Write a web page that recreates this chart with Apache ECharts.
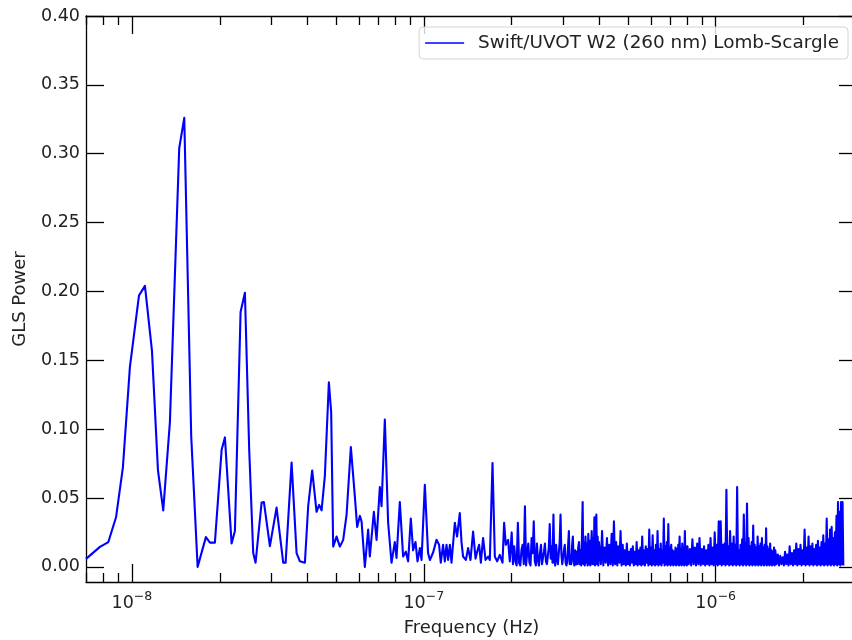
<!DOCTYPE html>
<html>
<head>
<meta charset="utf-8">
<script src="https://cdn.jsdelivr.net/npm/echarts@6/dist/echarts.min.js"></script>
<style>
html,body{margin:0;padding:0;background:#fff}
#chart{width:852px;height:640px}
</style>
</head>
<body>
<div id="chart"></div>
<script>
// Generalised Lomb-Scargle periodogram, Swift/UVOT W2 light curve.
// Frequencies are given in nHz (1e-9 Hz), power is the GLS power.

// Low-frequency part: resolved peaks
const lowFreq = [
  6.96, 7.77, 8.30, 8.82, 9.31, 9.84, 10.57, 11.08, 11.71, 12.28,
  12.80, 13.49, 14.52, 15.11, 15.96, 16.79, 17.92, 18.50, 19.24, 20.29,
  20.82, 21.95, 22.53, 23.56, 24.38, 25.22, 26.03, 26.52, 27.81, 28.32,
  29.69, 30.09, 31.30, 31.70, 32.98, 33.61, 35.23, 36.65, 37.62, 39.13,
  40.16, 41.45, 42.91, 43.80, 44.64, 45.81, 47.28, 48.15, 48.91, 50.24,
  51.57, 52.93, 54.37, 56.23, 58.04, 59.10, 60.37, 61.19, 62.80, 64.45,
  65.32, 67.42, 68.87, 70.68, 71.63, 73.52, 75.46, 77.50, 79.54, 80.62,
  82.74, 84.92, 86.75, 88.34, 90.24, 91.89, 93.65, 95.14, 96.89, 98.20,
  100.8, 103.4, 104.9, 107.6, 110.5, 112.8, 114.3, 116.4, 118.0, 119.6,
  121.1, 122.8, 124.4, 127.7, 130.0, 132.8, 134.6, 136.3, 139.3, 141.8,
  144.5, 147.5, 150.4, 152.3, 154.7, 156.8, 159.6, 162.7, 166.1, 168.3,
  171.9, 175.1, 178.3, 182.1, 186.0, 188.4, 190.9, 194.4, 197.0
];
const lowPower = [
  0.0058, 0.0145, 0.018, 0.036, 0.072, 0.145, 0.197, 0.204, 0.157, 0.070,
  0.041, 0.105, 0.304, 0.326, 0.095, 0.000, 0.0216, 0.0176, 0.0176, 0.085,
  0.094, 0.017, 0.026, 0.185, 0.199, 0.085, 0.010, 0.003, 0.0467, 0.047,
  0.015, 0.0145, 0.043, 0.042, 0.003, 0.003, 0.0757, 0.010, 0.004, 0.003,
  0.044, 0.070, 0.040, 0.045, 0.041, 0.066, 0.134, 0.112, 0.0147, 0.022,
  0.0147, 0.0196, 0.038, 0.087, 0.051, 0.029, 0.037, 0.033, 0.000, 0.027,
  0.0075, 0.040, 0.0196, 0.058, 0.044, 0.107, 0.032, 0.003, 0.018, 0.0065,
  0.047, 0.0075, 0.011, 0.004, 0.035, 0.012, 0.018, 0.004, 0.0136, 0.005,
  0.0595, 0.010, 0.005, 0.0104, 0.0196, 0.016, 0.003, 0.016, 0.004, 0.016,
  0.005, 0.016, 0.003, 0.032, 0.022, 0.039, 0.018, 0.0075, 0.005, 0.0136,
  0.005, 0.0256, 0.006, 0.011, 0.016, 0.003, 0.021, 0.005, 0.0075, 0.005,
  0.0753, 0.0075, 0.004, 0.0087, 0.003, 0.032, 0.016, 0.0196, 0.004
];

// High-frequency part: dense band of unresolved peaks
const bandFreq = [
  200,202,204,206,208,210,212,214,216,218, 220,222,224,226,228,230,232,234,236,238,
  240,242,244,246,248,250,252,254,256,258, 260,262,264,266,268,270,272,274,276,278,
  280,282,284,286,288,290,292,294,296,298, 300,302,304,306,308,310,312,314,316,318,
  320,322,324,326,328,330,332,334,336,338, 340,342,344,346,348,350,352,354,356,358,
  360,362,364,366,368,370,372,374,376,378, 380,382,384,386,388,390,392,394,396,398,
  400,404,408,412,416,420,424,428,432,436, 440,444,448,452,456,460,464,468,472,476,
  480,484,488,492,496,500,504,508,512,516, 520,524,528,532,536,540,544,548,552,556,
  560,564,568,572,576,580,584,588,592,596, 600,604,608,612,616,620,624,628,632,636,
  640,644,648,652,656,660,664,668,672,676, 680,684,688,692,696,700,704,708,712,716,
  720,724,728,732,736,740,744,748,752,756, 760,764,768,772,776,780,784,788,792,796,
  800,808,816,824,832,840,848,856,864,872, 880,888,896,904,912,920,928,936,944,952,
  960,968,976,984,992,1000,1008,1016,1024,1032, 1040,1048,1056,1064,1072,1080,1088,1096,1104,1112,
  1120,1128,1136,1144,1152,1160,1168,1176,1184,1192, 1200,1208,1216,1224,1232,1240,1248,1256,1264,1272,
  1280,1288,1296,1304,1312,1320,1328,1336,1344,1352, 1360,1368,1376,1384,1392,1400,1408,1416,1424,1432,
  1440,1448,1456,1464,1472,1480,1488,1496,1504,1512, 1520,1528,1536,1544,1552,1560,1568,1576,1584,1592,
  1600,1616,1632,1648,1664,1680,1696,1712,1728,1744, 1760,1776,1792,1808,1824,1840,1856,1872,1888,1904,
  1920,1936,1952,1968,1984,2000,2016,2032,2048,2064, 2080,2096,2112,2128,2144,2160,2176,2192,2208,2224,
  2240,2256,2272,2288,2304,2320,2336,2352,2368,2384, 2400,2416,2432,2448,2464,2480,2496,2512,2528,2544,
  2560,2576,2592,2608,2624,2640,2656,2672,2688,2704, 2720,2736
];
const bandPower = [
  // 200 - 398 nHz
  0.025,0.002,0.015,0.004,0.001,0.032,0.003,0.001,0.012,0.016,
  0.002,0.044,0.001,0.010,0.017,0.003,0.001,0.021,0.010,0.033,
  0.004,0.001,0.017,0.005,0.001,0.010,0.016,0.002,0.001,0.011,
  0.017,0.004,0.002,0.001,0.014,0.031,0.006,0.015,0.003,0.038,
  0.004,0.001,0.016,0.006,0.002,0.001,0.018,0.038,0.009,0.002,
  0.001,0.012,0.016,0.003,0.001,0.004,0.015,0.026,0.002,0.008,
  0.002,0.015,0.022,0.004,0.001,0.012,0.002,0.011,0.002,0.014,
  0.018,0.002,0.012,0.001,0.020,0.047,0.002,0.018,0.001,0.022,
  0.003,0.017,0.001,0.024,0.002,0.019,0.001,0.013,0.026,0.002,
  0.021,0.002,0.036,0.001,0.016,0.038,0.002,0.022,0.001,0.018,
  // 400 - 796 nHz
  0.018,0.002,0.026,0.001,0.014,0.003,0.021,0.001,0.016,0.002,
  0.024,0.001,0.033,0.002,0.018,0.001,0.015,0.003,0.026,0.001,
  0.016,0.002,0.012,0.001,0.017,0.002,0.011,0.001,0.013,0.003,
  0.015,0.001,0.011,0.002,0.018,0.001,0.012,0.002,0.014,0.001,
  0.022,0.002,0.012,0.001,0.015,0.003,0.013,0.001,0.027,0.002,
  0.014,0.001,0.023,0.002,0.012,0.001,0.016,0.002,0.026,0.001,
  0.013,0.002,0.017,0.001,0.012,0.003,0.035,0.001,0.015,0.002,
  0.018,0.001,0.031,0.002,0.014,0.001,0.016,0.002,0.012,0.001,
  0.011,0.002,0.014,0.001,0.013,0.002,0.016,0.001,0.022,0.002,
  0.013,0.001,0.017,0.002,0.014,0.001,0.026,0.002,0.015,0.001,
  // 800 - 1592 nHz
  0.015,0.002,0.013,0.001,0.020,0.002,0.014,0.001,0.017,0.002,
  0.021,0.001,0.013,0.002,0.015,0.001,0.012,0.002,0.016,0.001,
  0.021,0.002,0.014,0.001,0.025,0.002,0.016,0.001,0.033,0.002,
  0.033,0.001,0.016,0.002,0.017,0.001,0.056,0.002,0.015,0.001,
  0.026,0.002,0.017,0.001,0.022,0.002,0.016,0.001,0.058,0.002,
  0.012,0.001,0.016,0.002,0.020,0.001,0.038,0.002,0.017,0.001,
  0.046,0.002,0.021,0.001,0.015,0.002,0.018,0.001,0.030,0.002,
  0.016,0.001,0.014,0.002,0.022,0.001,0.015,0.002,0.017,0.001,
  0.021,0.002,0.014,0.001,0.016,0.002,0.028,0.001,0.015,0.002,
  0.013,0.001,0.017,0.002,0.012,0.001,0.011,0.002,0.014,0.001,
  // 1600 - 2736 nHz
  0.012,0.002,0.009,0.001,0.008,0.002,0.007,0.001,0.011,0.002,
  0.009,0.001,0.015,0.002,0.010,0.001,0.012,0.002,0.017,0.001,
  0.013,0.002,0.016,0.001,0.012,0.002,0.027,0.001,0.014,0.002,
  0.022,0.001,0.015,0.002,0.017,0.001,0.013,0.002,0.016,0.001,
  0.019,0.002,0.014,0.001,0.018,0.002,0.023,0.001,0.017,0.002,
  0.035,0.001,0.020,0.002,0.027,0.001,0.029,0.002,0.021,0.001,
  0.025,0.002,0.037,0.001,0.047,0.002,0.040,0.001,0.047,0.002,
  0.047,0.001
];

// Axis ticks
const xMajorTicks = [1e-8, 1e-7, 1e-6];
const xMinorTicks = [
  7e-9, 8e-9, 9e-9,
  2e-8, 3e-8, 4e-8, 5e-8, 6e-8, 7e-8, 8e-8, 9e-8,
  2e-7, 3e-7, 4e-7, 5e-7, 6e-7, 7e-7, 8e-7, 9e-7,
  2e-6, 3e-6
];
const yTicks = [0, 0.05, 0.10, 0.15, 0.20, 0.25, 0.30, 0.35, 0.40];

const seriesName = 'Swift/UVOT W2 (260 nm) Lomb-Scargle';
const xTitle = 'Frequency (Hz)';
const yTitle = 'GLS Power';

const X_MIN = 6.96e-9, X_MAX = 3.048e-6;
const Y_MIN = -0.011, Y_MAX = 0.40;

const NHZ = 1e-9;
const points = [];
lowFreq.forEach((f, i) => points.push([f * NHZ, lowPower[i]]));
bandFreq.forEach((f, i) => points.push([f * NHZ, bandPower[i]]));

const FONT = 'DejaVu Sans';
const TEXT = '#222';
const spine = { color: '#000', width: 1.3 };

function logAxis(position, ticks, len, showLine, extra) {
  return Object.assign({
    type: 'log',
    logBase: 10,
    position: position,
    min: X_MIN,
    max: X_MAX,
    splitLine: { show: false },
    axisPointer: { show: false },
    axisLine: { show: showLine, onZero: false, lineStyle: spine },
    axisTick: { show: true, inside: true, length: len, customValues: ticks, lineStyle: spine },
    axisLabel: { show: false },
    minorTick: { show: false }
  }, extra || {});
}

function valueAxis(position, extra) {
  return Object.assign({
    type: 'value',
    position: position,
    min: Y_MIN,
    max: Y_MAX,
    splitLine: { show: false },
    axisLine: { show: true, onZero: false, lineStyle: spine },
    axisTick: { show: true, inside: true, length: 18, customValues: yTicks, lineStyle: spine },
    axisLabel: { show: false }
  }, extra || {});
}

const minusSign = '\u2212';

const chart = echarts.init(document.getElementById('chart'), null, { renderer: 'canvas' });
chart.setOption({
  animation: false,
  backgroundColor: '#fff',
  grid: {
    left: 86, right: -5, top: 16, bottom: 58,
    containLabel: false,
    outerBoundsMode: 'none'
  },
  legend: {
    show: true,
    data: [seriesName],
    right: 4,
    top: 27,
    orient: 'horizontal',
    padding: [7, 9, 7, 6],
    icon: 'path://M0,0H40V1.5H0Z',
    itemWidth: 39,
    itemHeight: 18,
    backgroundColor: 'rgba(255,255,255,0.8)',
    borderColor: '#d4d4d4',
    borderWidth: 1,
    borderRadius: 4,
    textStyle: { fontFamily: FONT, fontSize: 18.4, color: TEXT, padding: [0, 0, 0, 9] },
    selectedMode: false
  },
  xAxis: [
    logAxis('bottom', xMajorTicks, 18, true, {
      name: xTitle,
      nameLocation: 'middle',
      nameGap: 37,
      nameTextStyle: { fontFamily: FONT, fontSize: 18, color: TEXT },
      axisLabel: {
        show: true,
        customValues: xMajorTicks,
        margin: 8,
        formatter: function (v) {
          const e = Math.round(Math.log10(v));
          return '{b|10}{s|' + (e < 0 ? minusSign + (-e) : e) + '}';
        },
        rich: {
          b: { fontFamily: FONT, fontSize: 17.5, color: TEXT, lineHeight: 22, verticalAlign: 'bottom' },
          s: { fontFamily: FONT, fontSize: 12.5, color: TEXT, lineHeight: 13, verticalAlign: 'top' }
        }
      }
    }),
    logAxis('bottom', xMinorTicks, 9, false),
    logAxis('top', xMajorTicks, 18, true),
    logAxis('top', xMinorTicks, 9, false)
  ],
  yAxis: [
    valueAxis('left', {
      name: yTitle,
      nameLocation: 'middle',
      nameGap: 57,
      nameTextStyle: { fontFamily: FONT, fontSize: 18, color: TEXT },
      axisLabel: {
        show: true,
        customValues: yTicks,
        margin: 6,
        fontFamily: FONT,
        fontSize: 17.5,
        color: TEXT,
        formatter: v => v.toFixed(2)
      }
    }),
    valueAxis('right')
  ],
  series: [{
    name: seriesName,
    type: 'line',
    xAxisIndex: 0,
    yAxisIndex: 0,
    data: points,
    symbol: 'none',
    showSymbol: false,
    smooth: false,
    silent: true,
    clip: true,
    lineStyle: { color: '#0000ff', width: 2.1, join: 'round', cap: 'butt' },
    itemStyle: { color: '#0000ff' }
  }]
});
</script>
</body>
</html>
